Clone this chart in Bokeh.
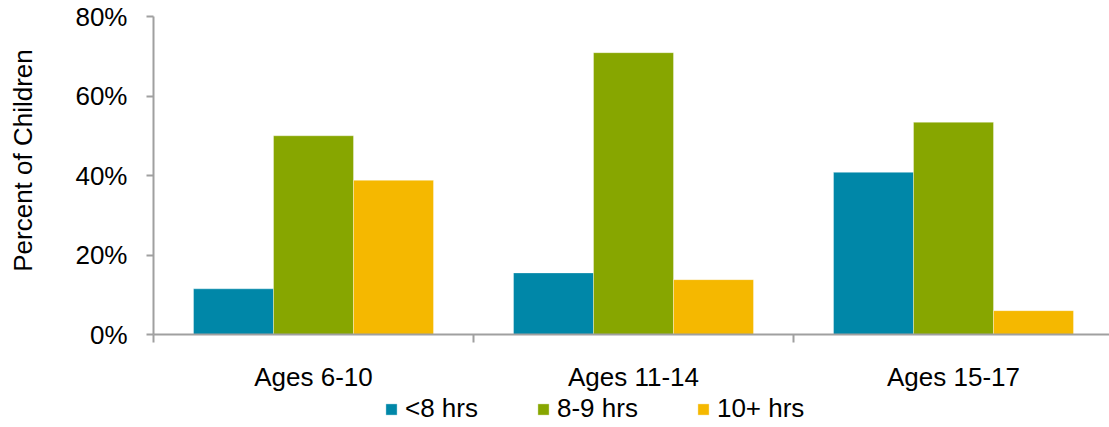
from math import pi
from bokeh.plotting import figure
from bokeh.models import (LinearAxis, FixedTicker, PrintfTickFormatter,
                          ColumnDataSource, Legend, LegendItem, Range1d, Label)
from bokeh.transform import dodge
from bokeh.embed import file_html
from bokeh.resources import INLINE

categories = ["Ages 6-10", "Ages 11-14", "Ages 15-17"]
series_names = ["<8 hrs", "8-9 hrs", "10+ hrs"]
under_8 = [11.5, 15.5, 40.8]
h8_9 = [50.0, 70.9, 53.4]
h10_plus = [38.8, 13.8, 6.0]
y_ticks = [0, 20, 40, 60, 80]
y_title = "Percent of Children"
colors = ["#0087A8", "#87A600", "#F5B800"]

FONT = "Liberation Sans"
FS = "26px"
GRAY = "#A0A0A0"

W, H = 1109, 427
PX_LEFT, PX_ZERO, PX_TOP80, PX_CAT = 153, 334, 16, 320   # layout in pixels
py = (PX_ZERO - PX_TOP80) / 80.0                             # pixels per percent

pos = [i + 0.5 for i in range(len(categories))]
src = ColumnDataSource(dict(pos=pos, cat=categories, a=under_8, b=h8_9, c=h10_plus))

x_range = Range1d(-PX_LEFT / PX_CAT, (W - PX_LEFT) / PX_CAT)
y_range = Range1d(-(H - PX_ZERO) / py, 80 + PX_TOP80 / py)
p = figure(x_range=x_range, y_range=y_range,
           width=W, height=H, output_backend="svg", toolbar_location=None,
           x_axis_location=None, y_axis_location=None,
           min_border_left=0, min_border_right=0, min_border_top=0, min_border_bottom=0)
p.outline_line_color = None
p.xgrid.visible = False
p.ygrid.visible = False
p.background_fill_color = "white"
p.border_fill_color = "white"

renderers = []
for col, off, color in zip(["a", "b", "c"], [-0.25, 0.0, 0.25], colors):
    r = p.vbar(x=dodge("pos", off), top=col, width=0.25, source=src,
               fill_color=color, line_color="white", line_alpha=0.35, line_width=1)
    renderers.append(r)

# y axis at the start of the first category
yax = LinearAxis(ticker=FixedTicker(ticks=y_ticks), bounds=(0, 80), fixed_location=0,
                 formatter=PrintfTickFormatter(format="%d%%"))
yax.axis_line_color = GRAY
yax.axis_line_width = 2
yax.major_tick_line_color = GRAY
yax.major_tick_line_width = 2
yax.major_tick_out = 7
yax.major_tick_in = 0
yax.minor_tick_line_color = None
yax.major_label_text_font = FONT
yax.major_label_text_font_size = FS
yax.major_label_text_color = "black"
yax.major_label_standoff = 19
p.add_layout(yax, "left")

# x axis at 0%: labels at category centres, ticks at category boundaries
overrides = {x: c for x, c in zip(pos, categories)}
xax = LinearAxis(ticker=FixedTicker(ticks=pos,
                                    minor_ticks=[float(i) for i in range(len(categories) + 1)]),
                 major_label_overrides=overrides, fixed_location=0,
                 bounds=(0, len(categories)))
xax.axis_line_color = GRAY
xax.axis_line_width = 2
xax.major_tick_line_color = None
xax.major_tick_out = 0
xax.major_tick_in = 0
xax.minor_tick_line_color = GRAY
xax.minor_tick_line_width = 2
xax.minor_tick_out = 8
xax.minor_tick_in = 0
xax.major_label_text_font = FONT
xax.major_label_text_font_size = FS
xax.major_label_text_color = "black"
xax.major_label_standoff = 19
p.add_layout(xax, "below")

# y-axis title
p.add_layout(Label(x=(22 - PX_LEFT) / PX_CAT, y=(PX_ZERO - 160) / py, text=y_title,
                   angle=pi / 2, text_align="center", text_baseline="middle",
                   text_font=FONT, text_font_size=FS, text_color="black"))

legend = Legend(items=[LegendItem(label=n, renderers=[r]) for n, r in zip(series_names, renderers)],
                orientation="horizontal", location=(384, 3),
                glyph_width=14, glyph_height=14, label_standoff=7, spacing=58,
                padding=0, margin=0, border_line_color=None, background_fill_alpha=0,
                label_text_font=FONT, label_text_font_size=FS, label_text_color="black",
                label_text_baseline="middle")
p.add_layout(legend, "center")

open("out.html", "w").write(file_html(p, INLINE))
